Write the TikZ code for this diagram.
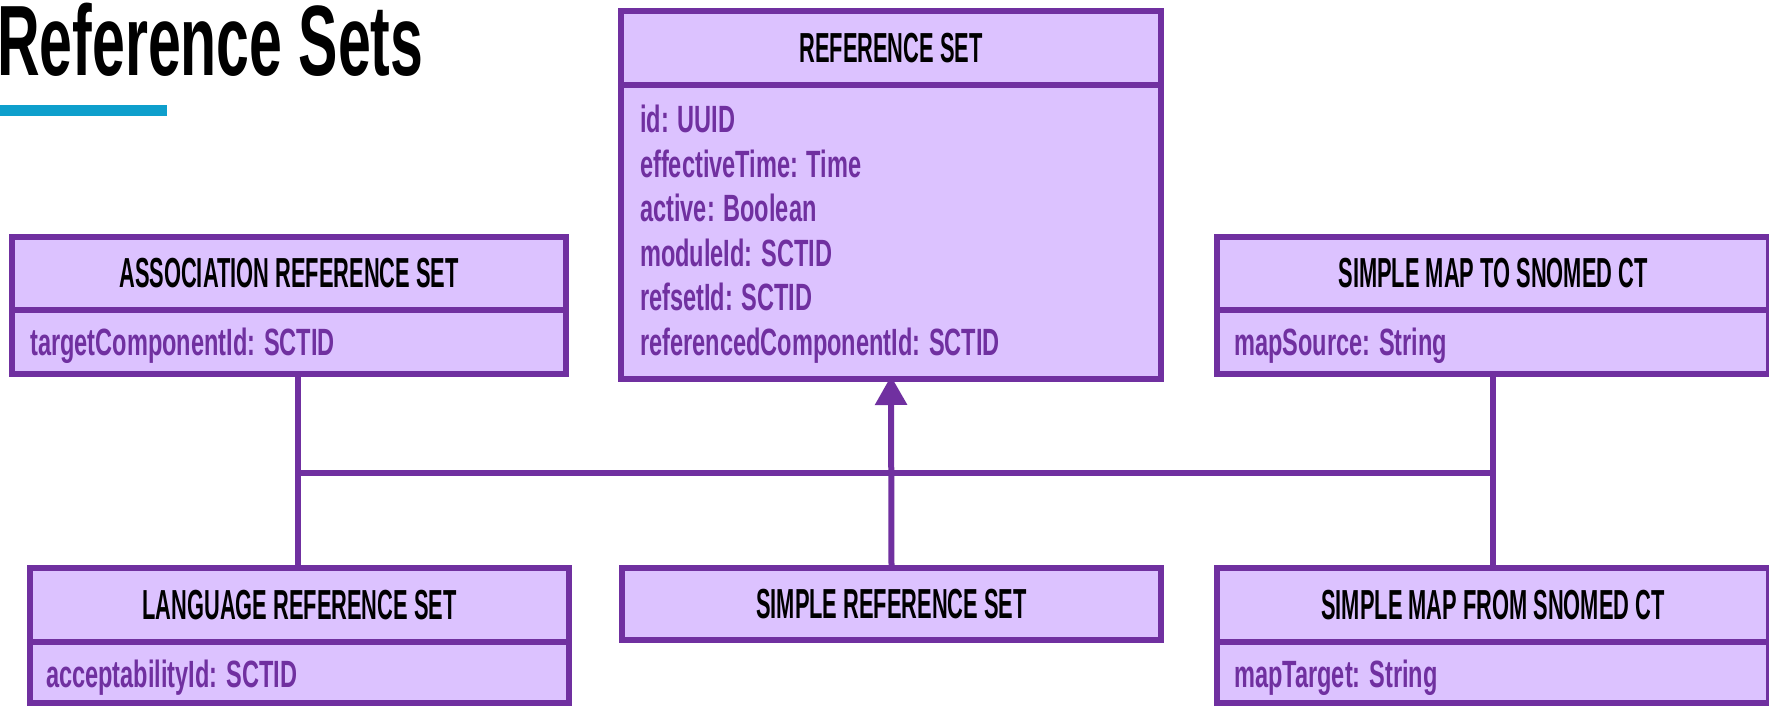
\documentclass[tikz,border=0pt]{standalone}
\usepackage{fontspec}
\setmainfont{Liberation Sans}
\newfontfamily\titlefont{Liberation Sans}[FakeStretch=0.59]
\newfontfamily\hdrfont{Liberation Sans}[FakeStretch=0.52]
\newfontfamily\attrfont{Liberation Sans}[FakeStretch=0.62]
\usetikzlibrary{arrows.meta}
\definecolor{umlpurple}{RGB}{112,48,160}
\definecolor{umlfill}{RGB}{220,194,255}
\definecolor{barblue}{RGB}{14,159,204}
\begin{document}
\begin{tikzpicture}[x=1pt,y=-1pt,
  boxpart/.style={draw=umlpurple, fill=umlfill, line width=6pt, inner sep=0pt, outer sep=0pt, anchor=north west},
  hdr/.style={boxpart, font=\hdrfont\bfseries\fontsize{42}{42}\selectfont, text=black},
  attr/.style={anchor=base west, inner sep=0pt, text=umlpurple, font=\attrfont\bfseries\fontsize{38}{38}\selectfont},
  conn/.style={draw=umlpurple, line width=6pt}]
\useasboundingbox (0,0) rectangle (1769,706);
% title
\node[anchor=base west, inner sep=0pt, font=\titlefont\bfseries\fontsize{100}{100}\selectfont] (title) at (-3,76) {Reference Sets};
\fill[barblue] (0,105) rectangle (167,116);
% REFERENCE SET
\node[hdr, minimum width=540pt, minimum height=74pt] (rsh) at (621,11) {REFERENCE SET};
\node[boxpart, minimum width=540pt, minimum height=294pt] (rsb) at (621,85) {};
\node[attr] (rs1) at (640,133) {id: UUID};
\node[attr] (rs2) at (640,177.4) {effectiveTime: Time};
\node[attr] (rs3) at (640,221.8) {active: Boolean};
\node[attr] (rs4) at (640,266.2) {moduleId: SCTID};
\node[attr] (rs5) at (640,310.6) {refsetId: SCTID};
\node[attr] (rs6) at (640,355) {referencedComponentId: SCTID};
% ASSOCIATION
\node[hdr, minimum width=554pt, minimum height=73pt] (assh) at (12,237) {ASSOCIATION REFERENCE SET};
\node[boxpart, minimum width=554pt, minimum height=64pt] (assb) at (12,310) {};
\node[attr] (ass1) at (30,355) {targetComponentId: SCTID};
% SIMPLE MAP TO
\node[hdr, minimum width=552pt, minimum height=73pt] (mtoh) at (1217,237) {SIMPLE MAP TO SNOMED CT};
\node[boxpart, minimum width=552pt, minimum height=64pt] (mtob) at (1217,310) {};
\node[attr] (mto1) at (1234,355) {mapSource: String};
% LANGUAGE
\node[hdr, minimum width=539pt, minimum height=74pt] (langh) at (30,568) {LANGUAGE REFERENCE SET};
\node[boxpart, minimum width=539pt, minimum height=61pt] (langb) at (30,642) {};
\node[attr] (lang1) at (46,687) {acceptabilityId: SCTID};
% SIMPLE REFERENCE SET
\node[hdr, minimum width=539pt, minimum height=72pt] (simh) at (622,568) {SIMPLE REFERENCE SET};
% SIMPLE MAP FROM
\node[hdr, minimum width=552pt, minimum height=74pt] (mfromh) at (1217,568) {SIMPLE MAP FROM SNOMED CT};
\node[boxpart, minimum width=552pt, minimum height=61pt] (mfromb) at (1217,642) {};
\node[attr] (mfrom1) at (1234,687) {mapTarget: String};
% connectors
\coordinate (jl) at (298,473);
\coordinate (jr) at (1493,473);
\draw[conn] (jl |- assb.south) -- (jl) -- (jr);
\draw[conn] (jl) -- (jl |- langh.north);
\draw[conn] (mtob.south) -- (mfromh.north);
\draw[conn, -{Triangle[width=31pt,length=29pt]}] (simh.north) -- ([yshift=3pt]rsb.south);
\end{tikzpicture}
\end{document}
